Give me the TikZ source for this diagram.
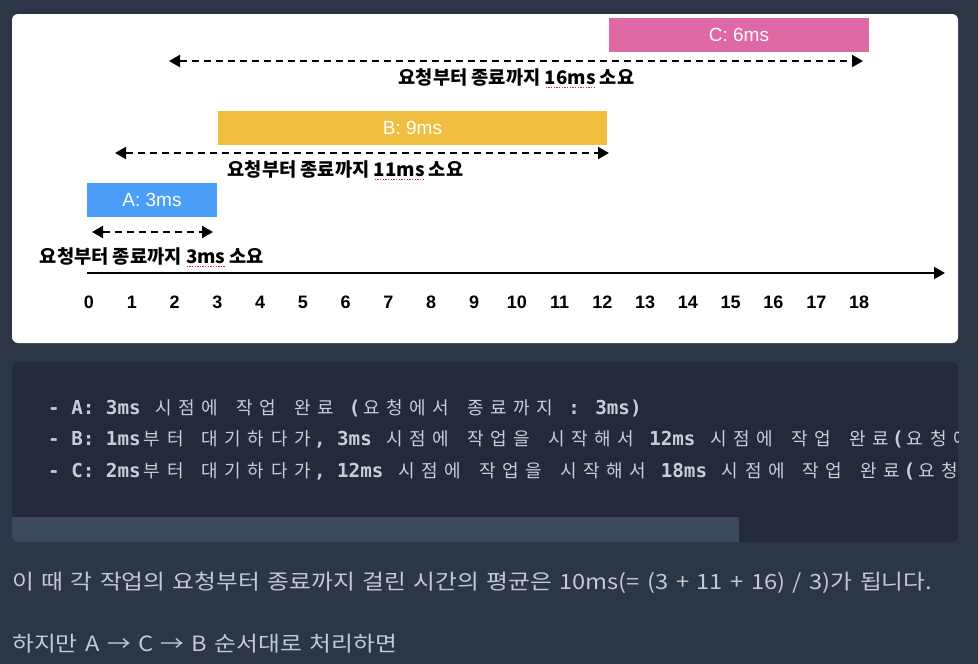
\documentclass[tikz,border=0pt]{standalone}
\usepackage{fontspec}
\setmainfont{Liberation Sans}
\newfontfamily\krfont{Noto Sans CJK KR}
\newfontfamily\parafont[FakeStretch=1.13, WordSpace=1.4]{Noto Sans CJK KR}
\newfontfamily\codefont{DejaVu Sans Mono}
\newfontfamily\codekr{Noto Sans CJK KR}
\usetikzlibrary{arrows.meta}

\definecolor{pagebg}{RGB}{44,54,70}
\definecolor{codebg}{RGB}{35,43,59}
\definecolor{scrollbar}{RGB}{58,73,92}
\definecolor{codetext}{RGB}{200,206,214}
\definecolor{paratext}{RGB}{194,201,211}
\definecolor{jobA}{RGB}{74,158,247}
\definecolor{jobB}{RGB}{240,190,65}
\definecolor{jobC}{RGB}{222,105,164}
\definecolor{spellred}{RGB}{225,40,40}

\def\tickzero{89}
\def\tickstep{42.78}
\def\korw{23.12pt}

% hangul inside the code listing, two mono cells per letter
\newcommand\kor[1]{\korcell#1\relax}
\def\korcell#1{\ifx\relax#1\else\makebox[\korw][c]{\codekr\mdseries\fontsize{18}{20}\selectfont #1}\expandafter\korcell\fi}
% red dotted spell-check mark under a word
\newcommand\spell[1]{\setbox0\hbox{#1}\rlap{\color{spellred}\raisebox{-4pt}{\hbox to \wd0{\xleaders\hbox to 2.6pt{\hss\rule{1.3pt}{1.3pt}\hss}\hfill}}}\box0\relax}

\begin{document}
\begin{tikzpicture}[x=1pt, y=-1pt, >={Triangle[length=11pt,width=12pt]}]
    \tikzstyle{job}=[minimum height=34pt, inner sep=0pt, text=white, font=\fontsize{19}{21}\selectfont]
    \tikzstyle{span}=[<->, line width=2pt, dash pattern=on 7pt off 5pt]
    \tikzstyle{spanlabel}=[anchor=base, inner sep=0pt, font=\krfont\bfseries\fontsize{18.7}{21}\selectfont]
    \tikzstyle{tick}=[anchor=base, inner sep=0pt, font=\bfseries\fontsize{18}{20}\selectfont]
    \tikzstyle{codeline}=[anchor=base west, inner sep=0pt, text=codetext, font=\codefont\bfseries\fontsize{19.2}{22}\selectfont]
    \tikzstyle{para}=[anchor=base west, inner sep=0pt, text=paratext, font=\parafont\fontsize{21}{24}\selectfont]

    \useasboundingbox (0,0) rectangle (978,664);
    \fill[pagebg] (0,0) rectangle (978,664);

    % timeline card
    \fill[white, rounded corners=6pt] (12,14) rectangle (958,343);

    \node[job, fill=jobA, minimum width=130pt] (A) at (152,200) {A: 3ms};
    \node[job, fill=jobB, minimum width=389pt] (B) at (412.5,127.5) {B: 9ms};
    \node[job, fill=jobC, minimum width=260pt] (C) at (739,35) {C: 6ms};

    \coordinate (A-req) at (92,232);
    \coordinate (A-end) at (213,232);
    \coordinate (B-req) at (115,153);
    \coordinate (B-end) at (609,153);
    \coordinate (C-req) at (169,61);
    \coordinate (C-end) at (863,61);
    \draw[span] (A-req) -- (A-end);
    \draw[span] (B-req) -- (B-end);
    \draw[span] (C-req) -- (C-end);

    \node[spanlabel] (A-lbl) at (152,263) {요청부터 종료까지 \spell{3ms} 소요};
    \node[spanlabel] (B-lbl) at (345.5,176) {요청부터 종료까지 \spell{11ms} 소요};
    \node[spanlabel] (C-lbl) at (516.5,84) {요청부터 종료까지 \spell{16ms} 소요};

    \coordinate (axis-start) at (87,273);
    \coordinate (axis-end) at (945,273);
    \draw[->, line width=2pt] (axis-start) -- (axis-end);

    \foreach \i in {0,...,18}
        \node[tick] (tick-\i) at ({\tickzero+\i*\tickstep},308) {\i};

    % code listing
    \begin{scope}
        \clip[rounded corners=6pt] (12,362) rectangle (958,542);
        \fill[codebg] (12,362) rectangle (958,542);
        \fill[scrollbar] (12,517) rectangle (739,542);
        \node[codeline] (code-A) at (48,414) {- A: 3ms \kor{시점에} \kor{작업} \kor{완료} (\kor{요청에서} \kor{종료까지} : 3ms)};
        \node[codeline] (code-B) at (48,445.5) {- B: 1ms\kor{부터} \kor{대기하다가}, 3ms \kor{시점에} \kor{작업을} \kor{시작해서} 12ms \kor{시점에} \kor{작업} \kor{완료}(\kor{요청에}};
        \node[codeline] (code-C) at (48,477) {- C: 2ms\kor{부터} \kor{대기하다가}, 12ms \kor{시점에} \kor{작업을} \kor{시작해서} 18ms \kor{시점에} \kor{작업} \kor{완료}(\kor{요청}};
    \end{scope}

    \node[para] (avg) at (12,589) {이 때 각 작업의 요청부터 종료까지 걸린 시간의 평균은 10ms(= (3 + 11 + 16) / 3)가 됩니다.};
    \node[para] (order) at (12,651) {하지만 A → C → B 순서대로 처리하면};
\end{tikzpicture}
\end{document}
